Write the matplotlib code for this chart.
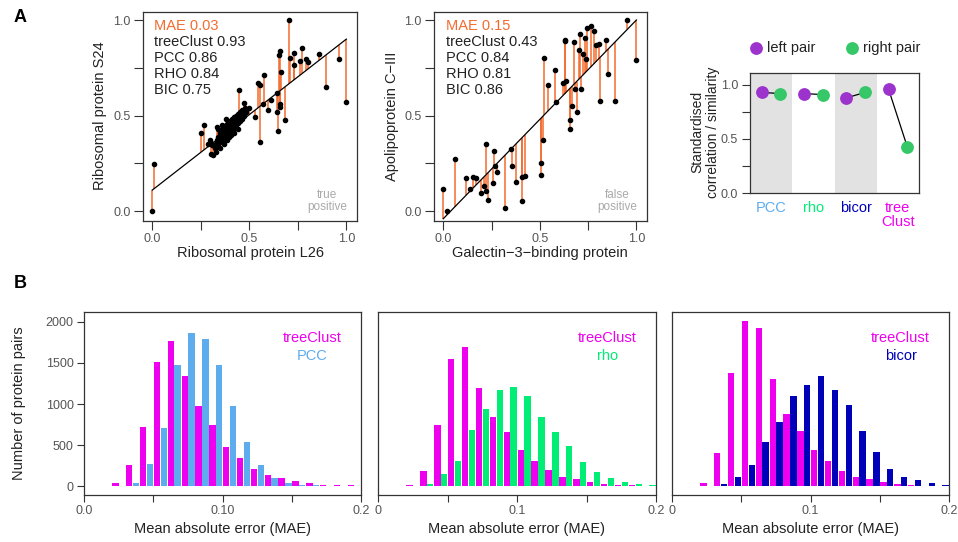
import numpy as np
import matplotlib.pyplot as plt
from matplotlib.lines import Line2D

plt.rcParams['font.family'] = ['Liberation Sans', 'DejaVu Sans']

# ---- data: panel A, left scatter (true positive) ----
a1_x = [0.0, 0.01, 0.249, 0.266, 0.287, 0.295, 0.30, 0.306, 0.302, 0.311, 0.333, 0.381,
        0.447, 0.474, 0.497, 0.53, 0.546, 0.555, 0.553, 0.572, 0.576, 0.598, 0.61,
        0.643, 0.644, 0.648, 0.653, 0.66, 0.656, 0.658, 0.662, 0.684, 0.703, 0.71,
        0.73, 0.732, 0.763, 0.773, 0.79, 0.804, 0.861, 0.893, 0.962, 0.998,
        0.325, 0.33, 0.33, 0.335, 0.34, 0.34, 0.345, 0.35, 0.35, 0.35, 0.355, 0.36,
        0.36, 0.365, 0.365, 0.37, 0.37, 0.375, 0.375, 0.38, 0.38, 0.385, 0.385, 0.39,
        0.39, 0.395, 0.395, 0.40, 0.40, 0.405, 0.405, 0.41, 0.41, 0.415, 0.415, 0.42,
        0.42, 0.425, 0.43, 0.43, 0.435, 0.44, 0.44, 0.445, 0.45, 0.45, 0.455, 0.46,
        0.46, 0.465, 0.47, 0.475, 0.48, 0.485, 0.36, 0.34, 0.42, 0.44]
a1_y = [0.0, 0.245, 0.41, 0.449, 0.351, 0.372, 0.354, 0.346, 0.298, 0.291, 0.441, 0.483,
        0.634, 0.564, 0.537, 0.49, 0.668, 0.66, 0.363, 0.56, 0.714, 0.527, 0.579,
        0.62, 0.518, 0.419, 0.815, 0.838, 0.558, 0.543, 0.726, 0.476, 1.0, 0.80,
        0.825, 0.766, 0.784, 0.855, 0.798, 0.778, 0.82, 0.649, 0.796, 0.572,
        0.33, 0.31, 0.35, 0.37, 0.34, 0.39, 0.36, 0.33, 0.38, 0.41, 0.36, 0.39,
        0.42, 0.37, 0.44, 0.40, 0.35, 0.42, 0.38, 0.45, 0.40, 0.43, 0.37, 0.41,
        0.46, 0.44, 0.39, 0.42, 0.47, 0.45, 0.40, 0.43, 0.48, 0.46, 0.42, 0.44,
        0.49, 0.47, 0.45, 0.50, 0.48, 0.46, 0.51, 0.49, 0.47, 0.52, 0.50, 0.48,
        0.53, 0.51, 0.53, 0.50, 0.54, 0.52, 0.45, 0.43, 0.41, 0.43]
a1_fit = [0.11, 0.79]   # intercept, slope
a1_stats = ['MAE 0.03', 'treeClust 0.93', 'PCC 0.86', 'RHO 0.84', 'BIC 0.75']

# ---- data: panel A, middle scatter (false positive) ----
a2_x = [0.0, 0.017, 0.059, 0.118, 0.138, 0.154, 0.17, 0.197, 0.209, 0.221, 0.223, 0.232,
        0.26, 0.263, 0.27, 0.277, 0.322, 0.351, 0.355, 0.377, 0.408, 0.408, 0.422,
        0.505, 0.507, 0.517, 0.524, 0.54, 0.578, 0.585, 0.621, 0.628, 0.632, 0.637,
        0.654, 0.656, 0.668, 0.678, 0.683, 0.69, 0.702, 0.706, 0.715, 0.721, 0.734,
        0.739, 0.742, 0.763, 0.78, 0.789, 0.804, 0.81, 0.843, 0.855, 0.891, 0.953, 1.0]
a2_y = [0.117, 0.0, 0.272, 0.175, 0.117, 0.178, 0.171, 0.092, 0.131, 0.105, 0.351, 0.056,
        0.145, 0.312, 0.237, 0.206, 0.016, 0.326, 0.234, 0.152, 0.054, 0.176, 0.181,
        0.25, 0.19, 0.373, 0.801, 0.658, 0.74, 0.569, 0.668, 0.895, 0.89, 0.679,
        0.475, 0.429, 0.551, 0.883, 0.637, 0.517, 0.841, 0.928, 0.637, 0.82, 0.906,
        0.796, 0.958, 0.969, 0.942, 0.867, 0.873, 0.576, 0.894, 0.717, 0.576, 1.0, 0.789]
a2_fit = [-0.04, 1.04]
a2_stats = ['MAE 0.15', 'treeClust 0.43', 'PCC 0.84', 'RHO 0.81', 'BIC 0.86']

# ---- data: panel A, right (standardised correlation) ----
methods = ['PCC', 'rho', 'bicor', 'tree\nClust']
left_pair = [0.93, 0.92, 0.88, 0.96]
right_pair = [0.92, 0.91, 0.93, 0.43]

# ---- data: panel B, histograms (bins of 0.01 starting at 0.00) ----
bin_starts = [0.00, 0.01, 0.02, 0.03, 0.04, 0.05, 0.06, 0.07, 0.08, 0.09,
              0.10, 0.11, 0.12, 0.13, 0.14, 0.15, 0.16, 0.17, 0.18, 0.19]
tc_vs_pcc = [0, 0, 35, 255, 723, 1507, 1762, 1341, 982, 747, 481, 343, 214, 133, 105, 61, 36, 16, 16, 12]
pcc_counts = [0, 3, 4, 44, 275, 715, 1475, 1862, 1790, 1479, 982, 537, 263, 105, 40, 20, 12, 4, 4, 4]
tc_vs_rho = [0, 0, 16, 182, 747, 1547, 1697, 1196, 844, 663, 444, 311, 194, 109, 89, 48, 28, 12, 12, 4]
rho_counts = [0, 0, 0, 24, 154, 307, 683, 937, 1168, 1204, 1095, 844, 663, 489, 299, 174, 105, 48, 32, 12]
tc_vs_bic = [0, 0, 40, 400, 1378, 2016, 1923, 1309, 885, 679, 448, 307, 182, 109, 89, 48, 32, 16, 8, 4]
bic_counts = [0, 0, 0, 24, 117, 263, 541, 788, 1099, 1228, 1337, 1168, 994, 675, 416, 214, 113, 73, 36, 12]

ORANGE = '#f26b2f'
MAGENTA = '#ee00ee'
PCC_C = '#5cacee'
RHO_C = '#00ee76'
BIC_C = '#0000b8'
PURPLE = '#9c33cc'
GREEN = '#35c768'
FRAME = '#333333'
TICK = '#555555'

W, H = 958, 542
fig = plt.figure(figsize=(W / 100, H / 100), dpi=100)


def box(l, t, r, b):
    return fig.add_axes([l / W, 1 - b / H, (r - l) / W, (b - t) / H])


def ftext(x, y, s, **kw):
    return fig.text(x / W, 1 - y / H, s, **kw)


def r_style(ax, tick_len):
    for sp in ax.spines.values():
        sp.set_color(FRAME)
        sp.set_linewidth(0.9)
    ax.tick_params(direction='out', length=tick_len, width=0.8, color=FRAME,
                   labelcolor=TICK, labelsize=9, pad=2.5)


def scatter_panel(ax, x, y, fit, stats, note, text_x):
    x = np.array(x)
    y = np.array(y)
    a, b = fit
    ax.vlines(x, y, a + b * x, color=ORANGE, lw=1.1, zorder=1)
    ax.plot([0, 1], [a, a + b], color='black', lw=0.9, zorder=2)
    ax.plot(x, y, 'o', ms=3.0, color='black', zorder=3)
    ax.set_xlim(-0.048, 1.055)
    ax.set_ylim(-0.052, 1.042)
    ticks = [0, 0.25, 0.5, 0.75, 1.0]
    labels = ['0.0', '', '0.5', '', '1.0']
    ax.set_xticks(ticks, labels)
    ax.set_yticks(ticks, labels)
    r_style(ax, 6.5)
    for i, s in enumerate(stats):
        ftext(text_x, 30.5 + 15.8 * i, s, fontsize=10.5, va='baseline',
              color=ORANGE if i == 0 else '#222222')
    ax.text(0.862, 0.095, note, transform=ax.transAxes, ha='center', va='center',
            fontsize=8.5, color='#aaaaaa', linespacing=1.05)


# panel A
ax1 = box(143, 12, 357, 221)
scatter_panel(ax1, a1_x, a1_y, a1_fit, a1_stats, 'true\npositive', 154)
ftext(250, 253, 'Ribosomal protein L26', fontsize=10.5, ha='center', va='center', color='#222222')
ftext(100, 116, 'Ribosomal protein S24', fontsize=10.5, ha='center', va='center', rotation=90, color='#222222')

ax2 = box(434, 12, 647, 221)
scatter_panel(ax2, a2_x, a2_y, a2_fit, a2_stats, 'false\npositive', 446.5)
ftext(540, 253, 'Galectin\u22123\u2212binding protein', fontsize=10.5, ha='center', va='center', color='#222222')
ftext(392, 116, 'Apolipoprotein C\u2212III', fontsize=10.5, ha='center', va='center', rotation=90, color='#222222')

ax3 = box(750, 73, 919, 193)
pos = np.arange(1, len(methods) + 1)
ax3.axvspan(0.5, 1.5, color='#e2e2e2', lw=0, zorder=0)
ax3.axvspan(2.5, 3.5, color='#e2e2e2', lw=0, zorder=0)
for p, l, r in zip(pos, left_pair, right_pair):
    ax3.plot([p - 0.22, p + 0.22], [l, r], color='black', lw=0.9, zorder=2)
ax3.plot(pos - 0.22, left_pair, 'o', ms=8.2, color=PURPLE, zorder=3, clip_on=False)
ax3.plot(pos + 0.22, right_pair, 'o', ms=8.2, color=GREEN, zorder=3, clip_on=False)
ax3.set_xlim(0.5, 4.5)
ax3.set_ylim(0, 1.11)
ax3.set_yticks([0, 0.25, 0.5, 0.75, 1.0], ['0.0', '', '0.5', '', '1.0'])
ax3.set_xticks(pos, methods)
r_style(ax3, 6)
ax3.tick_params(axis='x', length=0, labelsize=10.5, pad=6)
for lab, c in zip(ax3.get_xticklabels(), [PCC_C, RHO_C, BIC_C, MAGENTA]):
    lab.set_color(c)
    lab.set_linespacing(0.95)
ftext(705, 132, 'Standardised\ncorrelation / similarity', fontsize=10, ha='center', va='center',
      rotation=90, color='#222222', linespacing=1.15)
fig.add_artist(Line2D([756 / W], [1 - 48 / H], marker='o', ms=8.2, color=PURPLE, transform=fig.transFigure))
fig.add_artist(Line2D([852 / W], [1 - 48 / H], marker='o', ms=8.2, color=GREEN, transform=fig.transFigure))
ftext(767, 48, 'left pair', fontsize=10.5, va='center', color='#222222')
ftext(863, 48, 'right pair', fontsize=10.5, va='center', color='#222222')

# panel B
starts = np.array(bin_starts)
hist_specs = [
    (84, 361, tc_vs_pcc, pcc_counts, PCC_C, 'PCC', ['0.0', '', '0.10', '', '0.2']),
    (378, 656, tc_vs_rho, rho_counts, RHO_C, 'rho', ['0', '', '0.1', '', '0.2']),
    (672, 949, tc_vs_bic, bic_counts, BIC_C, 'bicor', ['0', '', '0.1', '', '0.2']),
]
for k, (l, r, tc, other, col, name, xlabels) in enumerate(hist_specs):
    ax = box(l, 312, r, 495)
    ax.bar(starts + 0.0027, tc, width=0.0046, color=MAGENTA, lw=0)
    ax.bar(starts + 0.0076, other, width=0.0046, color=col, lw=0)
    ax.set_xlim(0, 0.2)
    ax.set_ylim(-105, 2120)
    ax.set_xticks([0, 0.05, 0.1, 0.15, 0.2], xlabels)
    r_style(ax, 5)
    if k == 0:
        ax.set_yticks([0, 500, 1000, 1500, 2000])
    else:
        ax.set_yticks([])
    cx = l + (r - l) * 0.825
    ftext(cx, 338, 'treeClust', fontsize=10.5, ha='center', va='center', color=MAGENTA)
    ftext(cx, 356, name, fontsize=10.5, ha='center', va='center', color=col)
    ftext((l + r) / 2, 529, 'Mean absolute error (MAE)', fontsize=10.5, ha='center', va='center',
          color='#222222')
ftext(19.5, 403, 'Number of protein pairs', fontsize=10.5, ha='center', va='center', rotation=90,
      color='#222222')

ftext(20, 17, 'A', fontsize=13, fontweight='bold', ha='center', va='center')
ftext(20, 283, 'B', fontsize=13, fontweight='bold', ha='center', va='center')

fig.savefig('out.png', dpi=100)
